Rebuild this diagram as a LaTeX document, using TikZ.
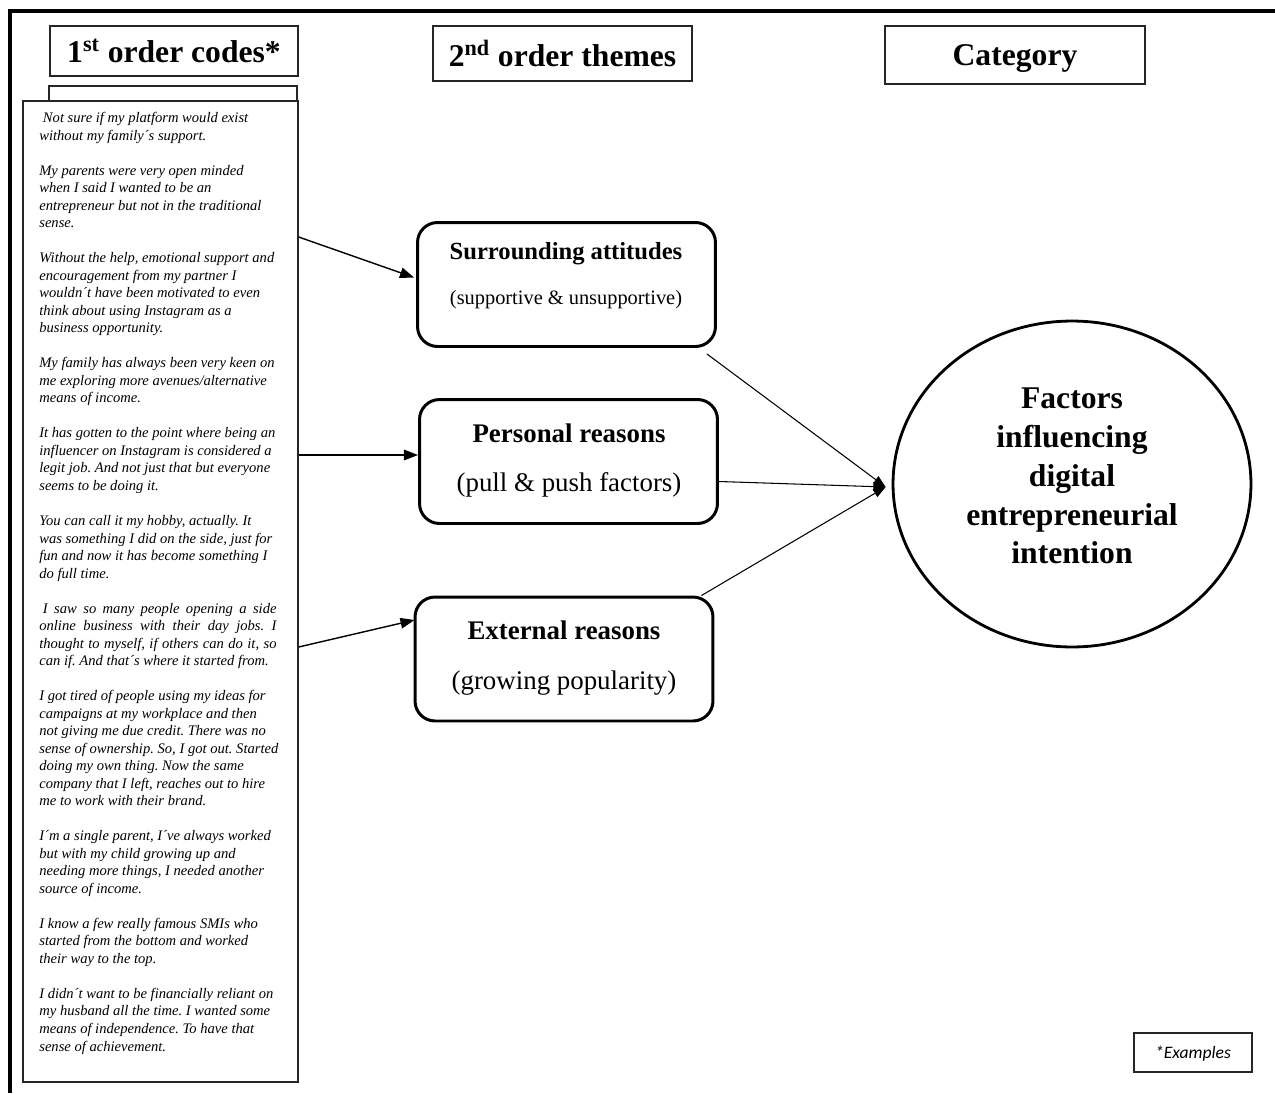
\documentclass[tikz,border=0pt]{standalone}
\usepackage{fontspec}
\setmainfont{Liberation Serif}
\newfontfamily\carlito{Carlito}
\usetikzlibrary{shapes.geometric,arrows.meta,calc}
\frenchspacing
\begin{document}
\begin{tikzpicture}[x=0.02cm,y=-0.02cm,
  hbox/.style={draw=black!85,line width=0.9pt,inner sep=0pt,font=\fontsize{18}{22}\selectfont\bfseries},
  plainbox/.style={draw=black!85,line width=0.8pt,inner sep=0pt},
  rbox/.style={draw,line width=1.7pt,rounded corners=0.4cm,inner sep=0pt,minimum width=5.96cm,minimum height=2.48cm},
  ttl/.style={inner sep=0pt,font=\fontsize{15.3}{18}\selectfont\bfseries},
  sub/.style={inner sep=0pt,font=\fontsize{15.3}{18}\selectfont},
  inarr/.style={line width=0.8pt,-{Triangle[length=8pt,width=6pt]}},
  outarr/.style={line width=0.6pt,-{Triangle[length=7pt,width=5pt]}},
  quotes/.style={inner sep=0pt,align=left,anchor=north west,font=\fontsize{8.3}{9.97}\selectfont\itshape}
]
\useasboundingbox (0,0) rectangle (1275,1093);
% outer frame
\draw[line width=2.3pt] (1275,11) -- (10,11) -- (10,1093);

% headers
\node[hbox,minimum width=4.96cm,minimum height=1cm] (h1) at (174,51) {1\textsuperscript{st} order codes*};
\node[hbox,minimum width=5.18cm,minimum height=1.1cm] (h2) at (562.5,53.5) {2\textsuperscript{nd} order themes};
\node[hbox,minimum width=5.2cm,minimum height=1.16cm,text height=12pt,text depth=0pt] (h3) at (1015,55) {Category};

% codes boxes
\node[plainbox,minimum width=4.96cm,minimum height=0.6cm] (hb) at (173,101) {};
\node[plainbox,fill=white,minimum width=5.5cm,minimum height=19.62cm] (codes) at (160.5,591.5) {};
\node[quotes] (qt) at (39,112) {%
\hspace*{0.25em}Not sure if my platform would exist\\
without my family´s support.\\[9.97pt]
My parents were very open minded\\
when I said I wanted to be an\\
entrepreneur but not in the traditional\\
sense.\\[9.97pt]
Without the help, emotional support and\\
encouragement from my partner I\\
wouldn´t have been motivated to even\\
think about using Instagram as a\\
business opportunity.\\[9.97pt]
My family has always been very keen on\\
me exploring more avenues/alternative\\
means of income.\\[9.97pt]
It has gotten to the point where being an\\
influencer on Instagram is considered a\\
legit job. And not just that but everyone\\
seems to be doing it.\\[9.97pt]
You can call it my hobby, actually. It\\
was something I did on the side, just for\\
fun and now it has become something I\\
do full time.\\[9.97pt]
\makebox[135pt][s]{\hspace*{0.25em}I saw so many people opening a side}\\
\makebox[135pt][s]{online business with their day jobs. I}\\
\makebox[135pt][s]{thought to myself, if others can do it, so}\\
can if. And that´s where it started from.\\[9.97pt]
I got tired of people using my ideas for\\
campaigns at my workplace and then\\
not giving me due credit. There was no\\
sense of ownership. So, I got out. Started\\
doing my own thing. Now the same\\
company that I left, reaches out to hire\\
me to work with their brand.\\[9.97pt]
I´m a single parent, I´ve always worked\\
but with my child growing up and\\
needing more things, I needed another\\
source of income.\\[9.97pt]
I know a few really famous SMIs who\\
started from the bottom and worked\\
their way to the top.\\[9.97pt]
I didn´t want to be financially reliant on\\
my husband all the time. I wanted some\\
means of independence. To have that\\
sense of achievement.};

% themes
\node[rbox] (sa) at (566.5,284.5) {};
\node[inner sep=0pt,font=\fontsize{14}{17}\selectfont\bfseries] (sat) at (566,254) {Surrounding attitudes};
\node[inner sep=0pt,font=\fontsize{11.6}{14}\selectfont] (sas) at (566,300) {(supportive \& unsupportive)};

\node[rbox] (pr) at (568.5,461.5) {};
\node[ttl] (prt) at (569,433) {Personal reasons};
\node[sub] (prs) at (569,485) {(pull \& push factors)};

\node[rbox] (er) at (564,659) {};
\node[ttl] (ert) at (564,630) {External reasons};
\node[sub] (ers) at (564,683) {(growing popularity)};

% category
\node[draw,shape=ellipse,line width=1.6pt,inner sep=0pt,minimum width=7.16cm,minimum height=6.52cm] (cat) at (1072,484) {};
\node[inner sep=0pt,align=center,font=\fontsize{18}{22.1}\selectfont\bfseries] (catt) at (1072,476) {Factors\\influencing\\digital\\entrepreneurial\\intention};

% examples note
\node[plainbox,minimum width=2.36cm,minimum height=0.78cm,text height=7pt,text depth=0pt,font=\carlito\itshape\fontsize{10}{12}\selectfont] (ex) at (1193,1052.5) {*Examples};

% connectors
\coordinate (a1s) at ($(codes.east)+(0,-354.5)$);
\coordinate (a2s) at ($(codes.east)+(0,-136.5)$);
\coordinate (a3s) at ($(codes.east)+(0,55.5)$);
\draw[inarr] (a1s) -- ($(sa.west)+(-2,-7)$);
\draw[inarr] (a2s) -- ($(pr.west)+(0,-6.5)$);
\draw[inarr] (a3s) -- ($(er.west)+(1,-39)$);

\coordinate (tip) at ($(cat.west)+(-6,3)$);
\draw[outarr] ($(sa.south east)+(-10,6)$) -- (tip);
\draw[outarr] ($(pr.east)+(0,20)$) -- (tip);
\draw[outarr] ($(er.north east)+(-13,0)$) -- (tip);
\end{tikzpicture}
\end{document}
